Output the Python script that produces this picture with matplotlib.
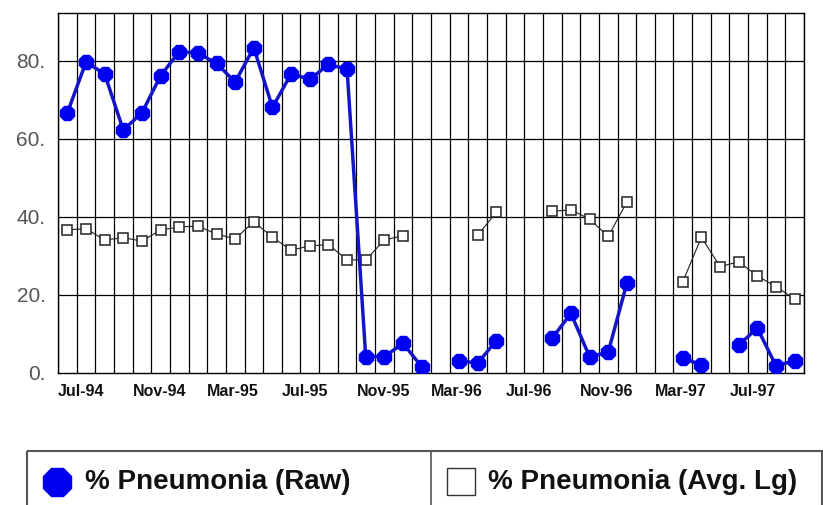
import numpy as np
import matplotlib
matplotlib.use("Agg")
import matplotlib.pyplot as plt
from matplotlib.patches import Rectangle

nan = np.nan
months = ["Jul-94", "Aug-94", "Sep-94", "Oct-94", "Nov-94", "Dec-94", "Jan-95", "Feb-95",
          "Mar-95", "Apr-95", "May-95", "Jun-95", "Jul-95", "Aug-95", "Sep-95", "Oct-95",
          "Nov-95", "Dec-95", "Jan-96", "Feb-96", "Mar-96", "Apr-96", "May-96", "Jun-96",
          "Jul-96", "Aug-96", "Sep-96", "Oct-96", "Nov-96", "Dec-96", "Jan-97", "Feb-97",
          "Mar-97", "Apr-97", "May-97", "Jun-97", "Jul-97", "Aug-97", "Sep-97", "Oct-97"]

raw = [66.7, 79.7, 76.7, 62.3, 66.7, 76.2, 82.4, 82.0, 79.4, 74.6, 83.4, 68.1, 76.7, 75.3,
       79.1, 77.9, 4.2, 4.2, 7.6, 1.6, nan, 3.2, 2.5, 8.3, nan, nan, 8.9, 15.3, 4.2, 5.3,
       23.0, nan, nan, 3.8, 2.1, nan, 7.2, 11.5, 1.8, 3.2]

avg = [36.7, 37.0, 34.1, 34.7, 33.8, 36.7, 37.4, 37.7, 35.6, 34.4, 38.8, 34.8, 31.5, 32.6,
       32.9, 29.0, 29.0, 34.1, 35.2, nan, nan, nan, 35.3, 41.2, nan, nan, 41.5, 41.8, 39.5,
       35.0, 43.8, nan, nan, 23.4, 34.8, 27.3, 28.5, 24.9, 22.1, 19.0]

yticks = [0, 20, 40, 60, 80]
ytick_labels = ["0.", "20.", "40.", "60.", "80."]
label_every = 4
legend_labels = ["% Pneumonia (Raw)", "% Pneumonia (Avg. Lg)"]

W, H = 823, 505
fig = plt.figure(figsize=(W / 100, H / 100), dpi=100)
fig.patch.set_facecolor("white")

ax = fig.add_axes([58 / W, 1 - 373 / H, (804 - 58) / W, (373 - 13) / H])
n = len(months)
x = np.arange(n)
ax.set_xlim(-0.5, n - 0.5)
ax.set_ylim(0, 92.3)

# grid
for k in range(n + 1):
    ax.axvline(k - 0.5, color="black", lw=0.9, zorder=1)
for v in yticks[1:]:
    ax.axhline(v, color="black", lw=0.9, zorder=1)
for s in ax.spines.values():
    s.set_color("black")
    s.set_linewidth(1.0)

ax.plot(x, avg, color="#222222", lw=0.8, marker="s", ms=7.9, mfc="white",
        mec="#222222", mew=1.1, zorder=3)
ax.plot(x, raw, color="#1515c8", lw=2.5, marker="8", ms=11, mfc="#0000f0",
        mec="#0000f0", zorder=4)

ax.set_yticks(yticks)
ax.set_yticklabels(ytick_labels, fontsize=15, color="#555555", family="Liberation Sans")
ax.tick_params(axis="y", length=0, pad=9)
ax.set_xticks([])
for i in range(0, n, label_every):
    ax.text(i - 0.5, -2.7, months[i], ha="left", va="top", fontsize=11.5,
            fontweight="bold", family="Liberation Sans", color="#111111")

# legend box in pixel coordinates
lax = fig.add_axes([0, 0, 1, 1])
lax.set_xlim(0, W)
lax.set_ylim(H, 0)
lax.axis("off")
lax.add_patch(Rectangle((27, 451), 795, 80, fill=False, ec="#555555", lw=1.5, clip_on=False))
lax.plot([431, 431], [451, 505], color="#555555", lw=1.2)
lax.plot([57], [482], marker="8", ms=22, mfc="#0000f0", mec="#0000f0", ls="none")
lax.add_patch(Rectangle((447, 468), 28, 27, fill=False, ec="#333333", lw=1.0))
lax.text(85, 482, legend_labels[0], ha="left", va="center", fontsize=20,
         fontweight="bold", family="Liberation Sans", color="#111111")
lax.text(488, 482, legend_labels[1], ha="left", va="center", fontsize=20,
         fontweight="bold", family="Liberation Sans", color="#111111")

fig.savefig("out.png", dpi=100)
